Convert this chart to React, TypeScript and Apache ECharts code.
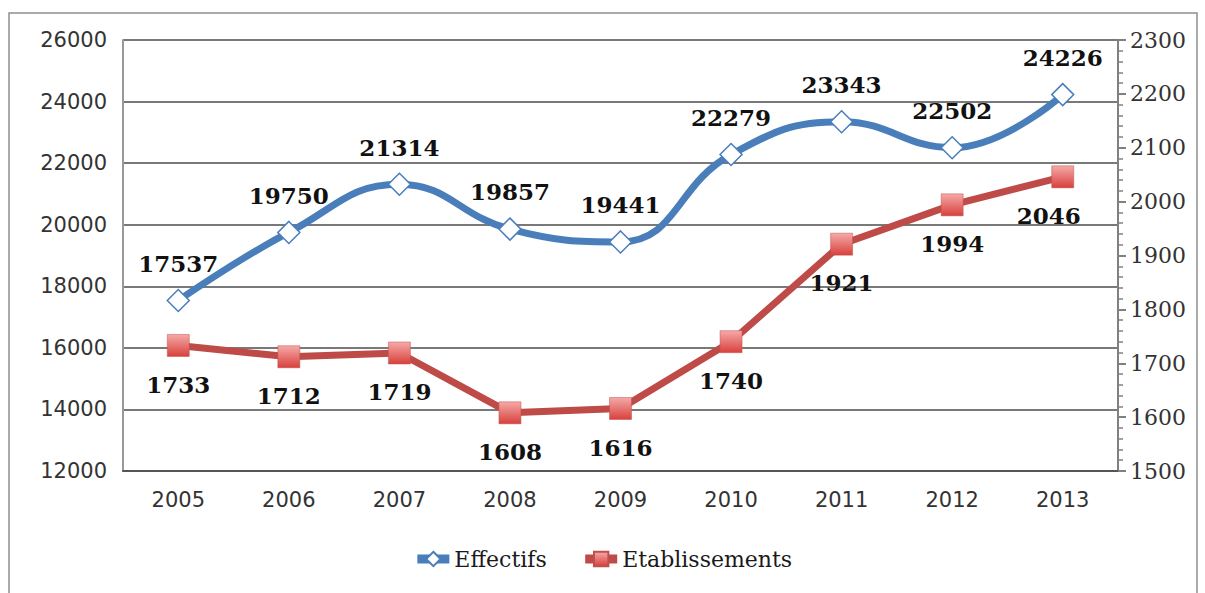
import React, { useEffect, useRef } from "react";
import * as echarts from "echarts";

const years = ["2005", "2006", "2007", "2008", "2009", "2010", "2011", "2012", "2013"];
const effectifs = [17537, 19750, 21314, 19857, 19441, 22279, 23343, 22502, 24226];
const etablissements = [1733, 1712, 1719, 1608, 1616, 1740, 1921, 1994, 2046];

const SANS = "DejaVu Sans";
const SERIF = "DejaVu Serif";

export default function App() {
  const ref = useRef<HTMLDivElement>(null);
  useEffect(() => {
    if (!ref.current) return;
    const chart = echarts.init(ref.current, undefined, { renderer: "svg" });
    const redGrad = {
      type: "linear",
      x: 0,
      y: 0,
      x2: 0,
      y2: 1,
      colorStops: [
        { offset: 0, color: "#F5AAA8" },
        { offset: 1, color: "#D8403C" },
      ],
    };
    const plain = (v: number) => String(v);
    chart.setOption({
      animation: false,
      backgroundColor: "#fff",
      graphic: [
        {
          type: "rect",
          shape: { x: 9, y: 13, width: 1188, height: 610 },
          style: { fill: "none", stroke: "#8f8f8f", lineWidth: 1.5 },
          silent: true,
        },
      ],
      grid: { left: 123, right: 87, top: 40, bottom: 122, containLabel: false },
      legend: {
        bottom: 18,
        left: "center",
        itemWidth: 32,
        itemHeight: 18,
        itemGap: 34,
        textStyle: { fontFamily: SERIF, fontSize: 22, color: "#1a1a1a" },
        data: [
          { name: "Effectifs", lineStyle: { width: 9 } },
          { name: "Etablissements", lineStyle: { width: 9 } },
        ],
      },
      xAxis: {
        type: "category",
        data: years,
        boundaryGap: true,
        axisLine: { show: true, lineStyle: { color: "#555", width: 2 } },
        axisTick: { show: false },
        axisLabel: { fontFamily: SANS, fontSize: 21, color: "#333", margin: 18 },
      },
      yAxis: [
        {
          type: "value",
          min: 12000,
          max: 26000,
          interval: 2000,
          axisLine: { show: true, lineStyle: { color: "#999", width: 2 } },
          axisTick: { show: false },
          axisLabel: { fontFamily: SANS, fontSize: 21, color: "#333", margin: 16, formatter: plain },
          splitLine: { show: true, lineStyle: { color: "#4d4d4d", width: 1.6 } },
        },
        {
          type: "value",
          min: 1500,
          max: 2300,
          interval: 100,
          position: "right",
          axisLine: { show: true, lineStyle: { color: "#808080", width: 2 } },
          axisTick: { show: true, length: 8, lineStyle: { color: "#808080", width: 2 } },
          minorTick: { show: true, splitNumber: 5, length: 5, lineStyle: { color: "#808080", width: 1.5 } },
          axisLabel: { fontFamily: SERIF, fontSize: 22, color: "#333", margin: 12, formatter: plain },
          splitLine: { show: false },
        },
      ],
      series: [
        {
          name: "Effectifs",
          type: "line",
          yAxisIndex: 0,
          data: effectifs,
          smooth: 0.45,
          symbol: "diamond",
          symbolSize: 22,
          lineStyle: { color: "#4A7EBB", width: 7 },
          itemStyle: { color: "#fff", borderColor: "#4A7EBB", borderWidth: 1.5 },
          label: {
            show: true,
            position: "top",
            distance: 14,
            fontFamily: SERIF,
            fontWeight: "bold",
            fontSize: 23,
            color: "#111",
          },
          z: 3,
        },
        {
          name: "Etablissements",
          type: "line",
          yAxisIndex: 1,
          data: etablissements.map((v, i) =>
            i === etablissements.length - 1 ? { value: v, label: { offset: [-14, 0] } } : v
          ),
          smooth: false,
          symbol: "rect",
          symbolSize: 22,
          lineStyle: { color: "#BE4B48", width: 7 },
          itemStyle: { color: redGrad, borderColor: "#C0504D", borderWidth: 0.5 },
          label: {
            show: true,
            position: "bottom",
            distance: 16,
            fontFamily: SERIF,
            fontWeight: "bold",
            fontSize: 23,
            color: "#111",
          },
          z: 2,
        },
      ],
    });
    return () => chart.dispose();
  }, []);
  return (
    <div
      ref={ref}
      style={{ position: "absolute", left: 0, top: 0, width: 1205, height: 593 }}
    />
  );
}
